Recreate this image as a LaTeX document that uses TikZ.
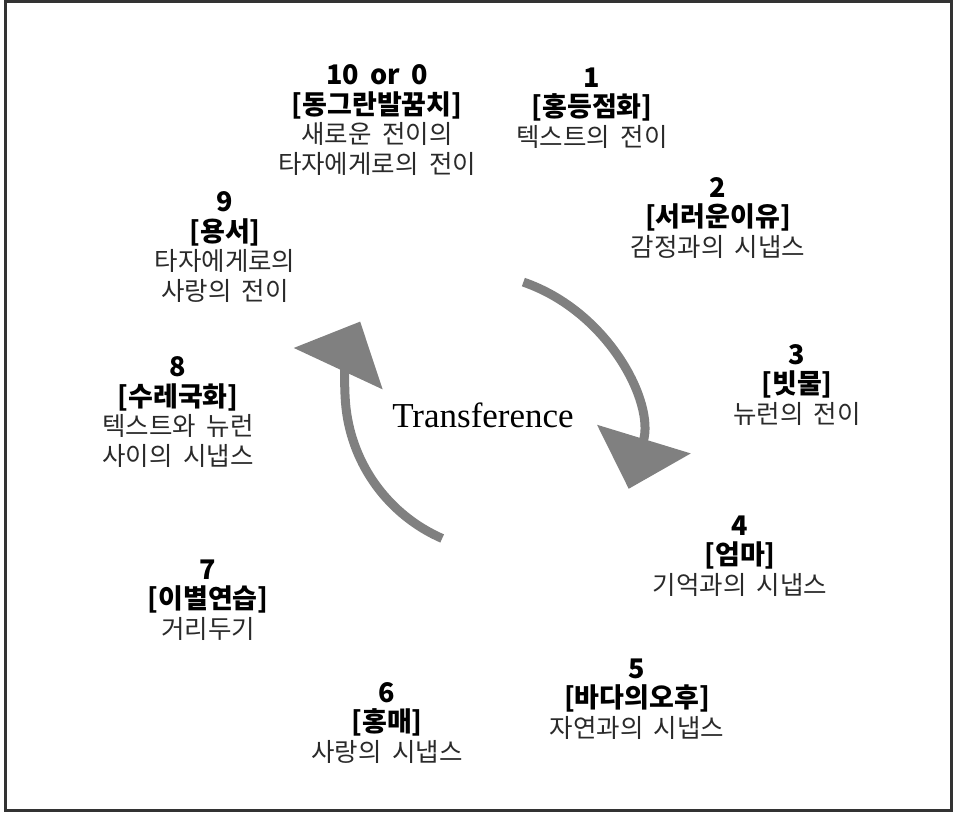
\documentclass[tikz,border=0pt]{standalone}
\usepackage{fontspec}
\setmainfont{Liberation Serif}
\newfontfamily\krfont[WordSpace=1.8]{Noto Sans CJK KR}
\usetikzlibrary{arrows.meta,calc}
\definecolor{Shaft}{HTML}{808080}
\definecolor{Frame}{HTML}{333333}
\definecolor{Soft}{HTML}{2A2A2A}
\newcommand{\hd}[1]{{\fontsize{27}{29.5}\selectfont\bfseries\color{black}#1}}
\tikzset{stage/.style={align=center,inner sep=0pt,text=Soft,
    font=\krfont\fontsize{25.5}{29.5}\selectfont},
  turn/.style={line width=9pt,draw=Shaft,-{Triangle[length=52pt,width=96pt]}},
  frame/.style={draw=Frame,line width=2.5pt}}

\begin{document}
\begin{tikzpicture}[x=1pt,y=-1pt]
    \useasboundingbox (0,0) rectangle (954,812);
    \draw[frame] (5.5,1.5) rectangle (951.5,810.5);
    % stages round the cycle
    \node[stage] (s0) at (377,120) {\hd{10 or 0}\\\hd{[동그란발꿈치]}\\새로운 전이의\\타자에게로의 전이};
    \node[stage] (s1) at (592,108) {\hd{1}\\\hd{[홍등점화]}\\텍스트의 전이};
    \node[stage] (s2) at (718,218) {\hd{2}\\\hd{[서러운이유]}\\감정과의 시냅스};
    \node[stage] (s3) at (797,385) {\hd{3}\\\hd{[빗물]}\\뉴런의 전이};
    \node[stage] (s4) at (740,556) {\hd{4}\\\hd{[엄마]}\\기억과의 시냅스};
    \node[stage] (s5) at (637,699) {\hd{5}\\\hd{[바다의오후]}\\자연과의 시냅스};
    \node[stage] (s6) at (387,723) {\hd{6}\\\hd{[홍매]}\\사랑의 시냅스};
    \node[stage] (s7) at (208,600) {\hd{7}\\\hd{[이별연습]}\\거리두기};
    \node[stage] (s8) at (178,412) {\hd{8}\\\hd{[수레국화]}\\텍스트와 뉴런\\사이의 시냅스};
    \node[stage] (s9) at (225,247) {\hd{9}\\\hd{[용서]}\\타자에게로의\\사랑의 전이};
    % centre and the two turning arrows
    \node[font=\fontsize{35}{38}\selectfont] (core) at (483,415) {Transference};
    \coordinate (cR) at (469,440);
    \coordinate (cL) at (507,390);
    \draw[turn] ($(cR)+(-71:167)$) arc[start angle=-71,end angle=17,radius=167];
    \draw[turn] ($(cL)+(113.6:162)$) arc[start angle=113.6,end angle=205,radius=162];
\end{tikzpicture}
\end{document}
